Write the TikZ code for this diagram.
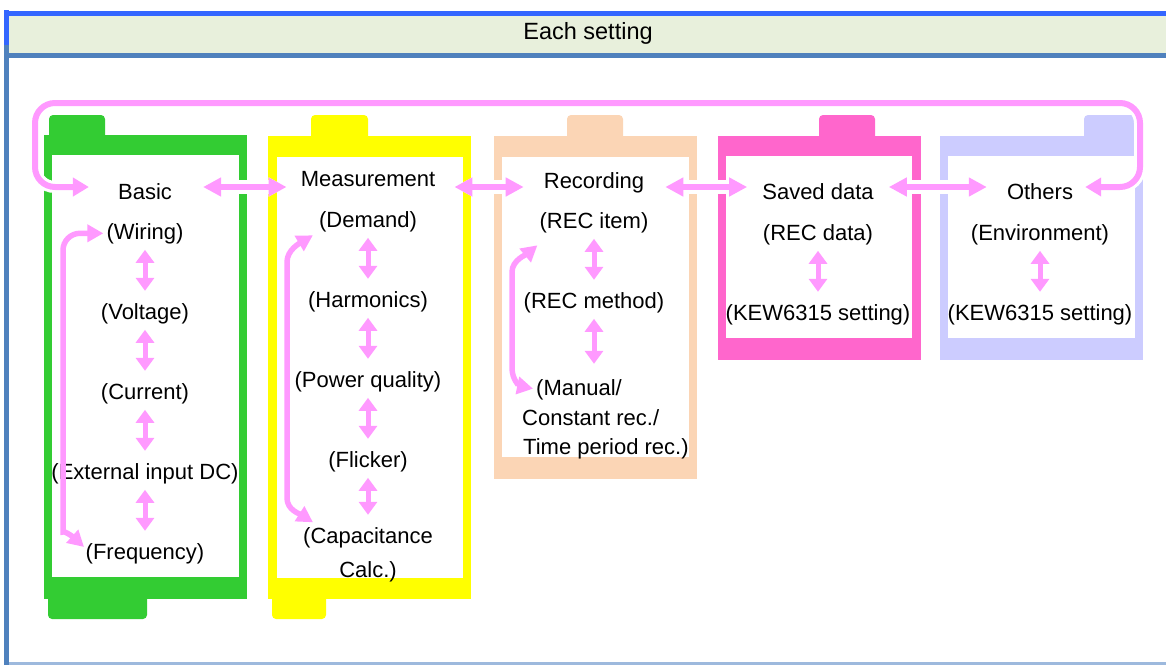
\documentclass[tikz,border=0pt]{standalone}
\usepackage{fontspec}
\setmainfont{Liberation Sans}
\usetikzlibrary{arrows.meta}
\definecolor{topblue}{HTML}{3366FF}
\definecolor{steel}{HTML}{4F81BD}
\definecolor{lightsteel}{HTML}{9DB9DD}
\definecolor{headbg}{HTML}{E8F0DC}
\definecolor{fgreen}{HTML}{33CC33}
\definecolor{fyellow}{HTML}{FFFF00}
\definecolor{fpeach}{HTML}{FBD5B5}
\definecolor{fpink}{HTML}{FF66CC}
\definecolor{flav}{HTML}{CCCCFF}
\definecolor{arrpink}{HTML}{FF99FF}
\newcommand\bodyfs{\fontsize{22}{26}\selectfont}
\newcommand\headfs{\fontsize{23.5}{28}\selectfont}
\begin{document}
\begin{tikzpicture}[x=1pt,y=-1pt,
  txt/.style={font=\bodyfs, inner sep=0pt, text height=16pt, text depth=4.6pt, anchor=base},
  txtw/.style={txt, anchor=base west},
  harr/.style={draw=arrpink, line width=6pt,
     {Triangle[width=18pt,length=18pt]}-{Triangle[width=18pt,length=18pt]},
     preaction={draw=white, line width=14pt}},
  looparr/.style={draw=arrpink, line width=6pt, rounded corners=20pt,
     {Triangle[width=18pt,length=16pt]}-{Triangle[width=18pt,length=16pt]},
     preaction={draw=white, line width=12pt}},
  vdbl/.style={draw=arrpink, line width=5pt,
     {Triangle[width=18pt,length=13pt]}-{Triangle[width=18pt,length=13pt]},
     shorten <=6pt, shorten >=12pt},
  iloop/.style={draw=arrpink, line width=5.5pt,
     {Triangle[width=17pt,length=16pt]}-{Triangle[width=17pt,length=16pt]}},
  ftab/.style={rounded corners=4pt}
]
\useasboundingbox (0,0) rectangle (1166,665);
% frame
\fill[headbg] (9,16) rectangle (1166,53);
\fill[topblue] (4,11) rectangle (1166,16);
\fill[topblue] (4,10) rectangle (9,45);
\fill[steel] (9,53) rectangle (1166,58);
\fill[steel] (4,45) rectangle (9,665);
\fill[lightsteel] (9,662) rectangle (1166,665);
\node[font=\headfs, inner sep=0pt, anchor=base] (head) at (588,39) {Each setting};

% green folder
\fill[fgreen, ftab] (49,115) rectangle (105,145);
\fill[fgreen, ftab] (48,590) rectangle (147,619);
\fill[fgreen] (44,135) rectangle (247,599);
\fill[white] (52,155) rectangle (239,577);
% yellow folder
\fill[fyellow, ftab] (311,115) rectangle (368,145);
\fill[fyellow, ftab] (272,590) rectangle (326,619);
\fill[fyellow] (268,136) rectangle (471,599);
\fill[white] (277,157) rectangle (463,578);
% peach folder
\fill[fpeach, ftab] (567,115) rectangle (623,145);
\fill[fpeach] (494,136) rectangle (697,479);
\fill[white] (502,157) rectangle (689,457);
% pink folder
\fill[fpink, ftab] (819,115) rectangle (875,145);
\fill[fpink] (718,136) rectangle (921,360);
\fill[white] (726,156) rectangle (912,338);
% lavender folder
\fill[flav, ftab] (1084,115) rectangle (1136,145);
\fill[flav] (940,136) rectangle (1143,360);
\fill[white] (948,156) rectangle (1135,338);

% texts
\node[txt] (basic) at (145,199) {Basic};
\node[txt] (wiring) at (145,239) {(Wiring)};
\node[txt] (voltage) at (145,319) {(Voltage)};
\node[txt] (current) at (145,399) {(Current)};
\node[txt] (extdc) at (145,479) {(External input DC)};
\node[txt] (freq) at (145,559) {(Frequency)};

\node[txt] (meas) at (368,186) {Measurement};
\node[txt] (demand) at (368,227) {(Demand)};
\node[txt] (harm) at (368,307) {(Harmonics)};
\node[txt] (pq) at (368,387) {(Power quality)};
\node[txt] (flick) at (368,467) {(Flicker)};
\node[txt] (capa) at (368,543) {(Capacitance};
\node[txt] (capb) at (368,577) {Calc.)};

\node[txt] (rec) at (594,188) {Recording};
\node[txt] (recitem) at (594,228) {(REC item)};
\node[txt] (recmeth) at (594,308) {(REC method)};
\node[txtw] (manA) at (536,395) {(Manual/};
\node[txtw] (manB) at (522,425) {Constant rec./};
\node[txtw] (manC) at (523,454) {Time period rec.)};

\node[txt] (saved) at (818,199) {Saved data};
\node[txt] (recdata) at (818,240) {(REC data)};
\node[txt] (kewA) at (818,320) {(KEW6315 setting)};

\node[txt] (others) at (1040,199) {Others};
\node[txt] (env) at (1040,240) {(Environment)};
\node[txt] (kewB) at (1040,320) {(KEW6315 setting)};

% helper coordinates
\coordinate (arrowrow) at (0,187);
\coordinate (loopTL) at (35,103);
\coordinate (loopTR) at (1140,103);
\coordinate (bloopc) at (63,515);

% big loop
\draw[looparr, shorten <=29pt, shorten >=12pt]
  (basic.west |- arrowrow) -| (loopTL) -- (loopTR) |- (others.east |- arrowrow);

% horizontal arrows
\draw[harr, shorten <=31pt, shorten >=14pt] (basic.east |- arrowrow) -- (meas.west |- arrowrow);
\draw[harr, shorten <=19pt, shorten >=20pt] (meas.east |- arrowrow) -- (rec.west |- arrowrow);
\draw[harr, shorten <=21pt, shorten >=15pt] (rec.east |- arrowrow) -- (saved.west |- arrowrow);
\draw[harr, shorten <=15pt, shorten >=20pt] (saved.east |- arrowrow) -- (others.west |- arrowrow);

% vertical arrows
\draw[vdbl] (wiring.south) -- (voltage.north);
\draw[vdbl] (voltage.south) -- (current.north);
\draw[vdbl] (current.south) -- (extdc.north);
\draw[vdbl] (extdc.south) -- (freq.north);
\draw[vdbl] (demand.south) -- (harm.north);
\draw[vdbl] (harm.south) -- (pq.north);
\draw[vdbl] (pq.south) -- (flick.north);
\draw[vdbl] (flick.south) -- (capa.north);
\draw[vdbl] (recitem.south) -- (recmeth.north);
\draw[vdbl, shorten >=15pt] (recmeth.south) -- (recmeth.south |- manA.north);
\draw[vdbl] (recdata.south) -- (kewA.north);
\draw[vdbl] (env.south) -- (kewB.north);

% inner loops
\draw[iloop, rounded corners=17pt, shorten <=3pt, shorten >=2pt]
  (wiring.west) -| (bloopc) .. controls +(0,15) and (72,536) .. ([yshift=5pt]freq.west);
\draw[iloop]
  ([xshift=-6pt,yshift=-14pt]demand.west) .. controls (300,243) and (287,250) .. (287,262)
  -- (287,498) .. controls (287,510) and (300,514) .. ([xshift=10pt,yshift=15pt]capa.west);
\draw[iloop, shorten >=3pt]
  ([xshift=-2pt,yshift=-23pt]recitem.west) .. controls (527,254) and (512,260) .. (512,272)
  -- (512,368) .. controls (512,380) and (520,386) .. (manA.west);
\end{tikzpicture}
\end{document}
